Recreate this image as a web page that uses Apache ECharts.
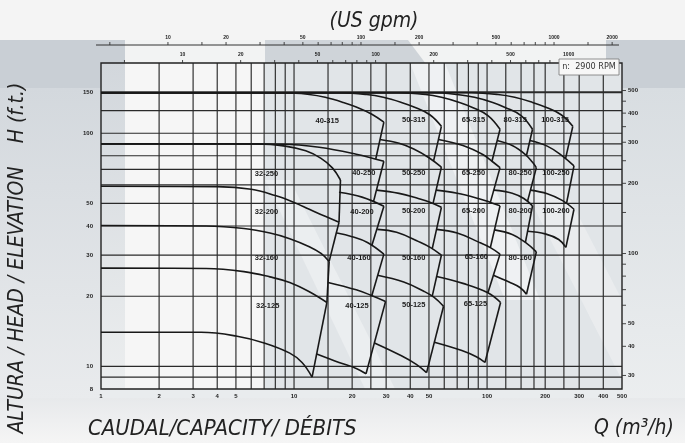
<!DOCTYPE html>
<html><head><meta charset="utf-8">
<script src="https://cdn.jsdelivr.net/npm/echarts@6/dist/echarts.min.js"></script>
<style>html,body{margin:0;padding:0;background:#e8ebed}#c{width:685px;height:443px}</style>
</head><body><div id="c"></div>
<script>
// ---------- axis ranges & ticks ----------
const Q_MIN = 1, Q_MAX = 500, H_MIN = 8, H_MAX = 200;
const qGrid = [2,3,4,5,6,7,8,9,10,15,20,25,30,40,50,60,70,80,90,100,125,150,175,200,250,300,400];
const hGrid = [9,10,20,30,40,50,60,70,80,90,100,125,150];
const qLabels = [1,2,3,4,5,10,20,30,40,50,100,200,300,400,500];
const hLabels = [8,10,20,30,40,50,100,150];
const ftTicks = [30,40,50,60,70,80,90,100,150,200,250,300,350,400,450,500];
const ftLabels = [30,40,50,100,200,300,400,500];
const FT_TO_M = 0.3048;
const gpmTicks = [5,10,15,20,30,40,50,60,70,80,90,100,150,200,300,400,500,600,700,800,900,1000,1500,2000];
const gpmLabels = [10,20,50,100,200,500,1000,2000];
const GPM_PER_M3H = 4.5;
const gpm2Ticks = [5,10,20,30,40,50,60,70,80,90,100,200,300,400,500,600,700,800,900,1000];
const gpm2Labels = [10,20,50,100,200,500,1000];
const GPM2_PER_M3H = 3.78;

// ---------- pump curves (Q m3/h, H m) ----------
const c32_250 = [[1,90],[6.5,90],[9,88],[11.5,84],[13.8,78],[15.8,71],[17.4,63]];
const c32_200 = [[1,59.2],[4,59],[6,57.5],[8,54],[10,50.5],[12,47.2],[14.5,44],[17.1,41.5]];
const c32_160 = [[1,40.2],[3.5,40],[5.5,39],[7.5,37.3],[9.5,35.3],[12,32.6],[13.8,30.5],[15.2,28.2]];
const c32_125 = [[1,26.4],[3.5,26.3],[5.5,25.5],[7.5,24.2],[9.5,22.9],[12,20.9],[14.8,18.8]];
const c32_min = [[1,14],[3.3,14],[5,13.5],[7,12.6],[9.5,11.4],[11,10.4],[12.4,9.0]];

const c40_315 = [[1,149],[9,149],[12,146.5],[14.5,142.5],[18,135.5],[21,129.5],[25.3,120.6],[29.2,111.5]];
const c40_250 = [[1,90],[8.7,89.7],[13.5,87.1],[21,81.3],[29.2,75.8]];
const c40_200 = [[17.1,55.8],[22.5,53.2],[29.2,48.6]];
const c40_160 = [[16.7,37.3],[20,36],[24,34],[29.2,30.3]];
const c40_125 = [[15.0,22.9],[21,21.3],[25,20.2],[29.8,19]];
const c40_min = [[13.1,11.3],[17.1,10.4],[21,9.8],[23.6,9.3]];

const c50_315 = [[1,149],[17.4,149],[23.8,146.5],[29,142.5],[36,135.5],[41.8,129.5],[50.5,120],[58,107]];
const c50_250 = [[27.9,94],[35,90.5],[41.7,85.5],[50,78.5],[58,71.5]];
const c50_200 = [[26.7,57],[35,55.2],[44,52.5],[51,50.5],[58,48.1]];
const c50_160 = [[27,38.7],[34,37.6],[44.5,34.2],[51,32.3],[58,30]];
const c50_125 = [[27.1,24.6],[37,23],[47,21],[53,19.8],[59.5,18.1]];
const c50_min = [[26.1,12.6],[36,11.1],[43,10.2],[48.6,9.4]];

const c65_315 = [[1,149],[35,149],[48,146.5],[58,142.5],[72,135.5],[84,129],[101,119],[116.7,104]];
const c65_250 = [[56,94],[75,88.5],[95,81],[106,75.8],[116.7,71.2]];
const c65_200 = [[54.5,57],[70,55.3],[90,52.5],[104,50.5],[116.7,48.8]];
const c65_160 = [[54.7,38.7],[70,37.3],[90,34.2],[104,32.3],[116.7,30.3]];
const c65_125 = [[54.8,24.3],[75,22.7],[101,20.7],[117.5,18.8]];
const c65_min = [[53.3,12.7],[74,11.7],[88,11],[97.5,10.4]];

const c80_315 = [[1,149],[52,149],[70,146.5],[86,142.5],[107,135.5],[124,129],[150,119],[172,104]];
const c80_250 = [[112.7,93],[135,88.5],[158,81],[172,75],[180,71.2]];
const c80_200 = [[108.4,57],[135,55.3],[155,52.5],[172,48.8]];
const c80_160 = [[109,38.5],[135,36.8],[158,34],[180,31]];
const c80_min = [[107.9,24.6],[130,23],[148,21.8],[160,20.4]];

const c100_315 = [[1,149],[83,149],[114,146.5],[139,142.5],[172,135.5],[200,129.5],[242,120],[278,107]];
const c100_250 = [[166.8,93],[205,88],[245,80],[282,72.4]];
const c100_200 = [[167.8,57],[205,55],[245,51.5],[282,47.2]];
const c100_min = [[162,38],[200,37],[235,35],[256,32.4]];

// right-hand limits of each pump field
const e32 = [[[17.4,63],[17.1,41.5]],[[17.1,41.5],[15.2,28.2]],[[15.2,28.2],[14.8,18.8]],[[14.8,18.8],[12.4,9.0]]];
const e40 = [[[29.2,111.5],[26.5,77.5]],[[29.2,75.8],[25.8,50.9]],[[29.2,48.6],[25.3,33.0]],[[29.2,30.3],[25.3,20.15]],[[29.8,19],[23.6,9.3]]];
const e50 = [[[58,107],[52.8,75.9]],[[58,71.5],[52.5,50]],[[58,48.1],[52,32]],[[58,30],[52,20]],[[59.5,18.1],[48.6,9.4]]];
const e65 = [[[116.7,104],[106,75.8]],[[116.7,71.2],[104,50.5]],[[116.7,48.8],[104,32.3]],[[116.7,30.3],[101,20.7]],[[117.5,18.8],[97.5,10.4]]];
const e80 = [[[172,104],[160,80.2]],[[180,71.2],[162,51]],[[172,48.8],[158,34]],[[180,31],[160,20.4]]];
const e100 = [[[278,107],[255,77.8]],[[282,72.4],[258,50]],[[282,47.2],[256,32.4]]];

// pump field names and where they sit (Q, H)
const pumpNames = ['40-315','50-315','65-315','80-315','100-315',
  '32-250','40-250','50-250','65-250','80-250','100-250',
  '32-200','40-200','50-200','65-200','80-200','100-200',
  '32-160','40-160','50-160','65-160','80-160',
  '32-125','40-125','50-125','65-125'];
const pumpQ = [14.85,41.7,85,140,225, 7.2,23,41.7,85,148.5,227.6, 7.2,22.5,41.7,85,148.5,227.6, 7.2,21.7,41.7,88,148.5, 7.3,21.2,41.7,87];
const pumpH = [112.6,113.7,113.7,113.7,114.5, 66.7,67.3,67.3,67.8,67.3,67.3, 45.8,45.8,46.3,46.3,46.3,46.3, 29.1,29.1,29.1,29.4,29.1, 18.1,18.1,18.4,18.6];

// ---------- build ----------
const curves = [c32_250,c32_200,c32_160,c32_125,c32_min,
  c40_315,c40_250,c40_200,c40_160,c40_125,c40_min,
  c50_315,c50_250,c50_200,c50_160,c50_125,c50_min,
  c65_315,c65_250,c65_200,c65_160,c65_125,c65_min,
  c80_315,c80_250,c80_200,c80_160,c80_min,
  c100_315,c100_250,c100_200,c100_min];
const edges = [].concat(e32,e40,e50,e65,e80,e100);

const TICK_FONT = "bold 6px 'Liberation Sans', Arial, sans-serif";
const INK = '#1c1c1c';
const NARROW = "'Liberation Sans Narrow','DejaVu Sans Condensed','Arial Narrow',sans-serif";

function ln(x1,y1,x2,y2,w,c){return {type:'line',shape:{x1,y1,x2,y2},style:{stroke:c||'#333',lineWidth:w||1}};}
function tx(x,y,t,align,va,font){return {type:'text',x,y,style:{text:String(t),fill:INK,font:font||TICK_FONT,align:align||'center',verticalAlign:va||'middle'}};}

function gridRender(params, api){
  const P=(q,h)=>api.coord([q,h]);
  const x0=P(Q_MIN,H_MIN)[0], x1=P(Q_MAX,H_MIN)[0];
  const yB=P(Q_MIN,H_MIN)[1], yT=P(Q_MIN,H_MAX)[1];
  const ch=[];
  qGrid.forEach(q=>{const x=P(q,H_MIN)[0]; ch.push(ln(x,yB,x,yT,1.15,'#2a2a2a'));});
  hGrid.forEach(h=>{const y=P(Q_MIN,h)[1]; ch.push(ln(x0,y,x1,y,h===150?2:1.15,'#2a2a2a'));});
  ch.push({type:'rect',shape:{x:x0,y:yT,width:x1-x0,height:yB-yT},style:{fill:null,stroke:'#222',lineWidth:1.4}});
  return {type:'group',children:ch};
}

function axisRender(params, api){
  const P=(q,h)=>api.coord([q,h]);
  const x0=P(Q_MIN,H_MIN)[0], x1=P(Q_MAX,H_MIN)[0];
  const yB=P(Q_MIN,H_MIN)[1], yT=P(Q_MIN,H_MAX)[1];
  const ch=[];
  qLabels.forEach(q=>{const x=P(q,H_MIN)[0]; ch.push(tx(x,yB+7,q));});
  hLabels.forEach(h=>{const y=P(Q_MIN,h)[1]; ch.push(tx(x0-8,y,h,'right'));});
  ftTicks.forEach(f=>{const y=P(Q_MAX,f*FT_TO_M)[1]; ch.push(ln(x1,y,x1+4,y,0.9,'#333'));});
  ftLabels.forEach(f=>{const y=P(Q_MAX,f*FT_TO_M)[1]; ch.push(tx(x1+6,y,f,'left'));});
  const yR1=yT-18;
  ch.push(ln(x0-5,yR1,x1-3,yR1,1,'#333'));
  gpmTicks.forEach(g=>{const x=P(g/GPM_PER_M3H,H_MAX)[0]; ch.push(ln(x,yR1,x,yR1-3,0.9,'#333'));});
  gpmLabels.forEach(g=>{const x=P(g/GPM_PER_M3H,H_MAX)[0]; ch.push(tx(x,yR1-7,g,'center','middle',"bold 5px 'Liberation Sans', Arial, sans-serif"));});
  gpm2Ticks.forEach(g=>{const x=P(g/GPM2_PER_M3H,H_MAX)[0]; ch.push(ln(x,yT,x,yT-3,0.9,'#333'));});
  gpm2Labels.forEach(g=>{const x=P(g/GPM2_PER_M3H,H_MAX)[0]; ch.push(tx(x,yT-8,g,'center','middle',"bold 5px 'Liberation Sans', Arial, sans-serif"));});
  return {type:'group',children:ch};
}

function labelRender(params, api){
  const p=api.coord([api.value(0),api.value(1)]);
  return tx(p[0],p[1],pumpNames[params.dataIndex],'center','middle',"bold 7.5px 'Liberation Sans', Arial, sans-serif");
}

const series = [];
series.push({type:'custom',renderItem:gridRender,data:[[Q_MIN,H_MIN]],z:1,silent:true,clip:false,animation:false});
curves.forEach(d=>series.push({type:'line',data:d,smooth:0.4,symbol:'none',showSymbol:false,silent:true,animation:false,lineStyle:{color:'#181818',width:1.6},z:3}));
edges.forEach(d=>series.push({type:'line',data:d,symbol:'none',showSymbol:false,silent:true,animation:false,lineStyle:{color:'#181818',width:1.6},z:3}));
series.push({type:'custom',renderItem:labelRender,data:pumpQ.map((q,i)=>[q,pumpH[i]]),z:5,silent:true,clip:false,animation:false});
series.push({type:'custom',renderItem:axisRender,data:[[Q_MIN,H_MIN]],z:5,silent:true,clip:false,animation:false});

const bg = [
  {type:'rect',shape:{x:0,y:0,width:685,height:443},style:{fill:'#e9ecee'}},
  {type:'rect',shape:{x:0,y:0,width:685,height:40},style:{fill:'#f4f4f4'}},
  {type:'rect',shape:{x:0,y:40,width:685,height:24},style:{fill:'#f2f3f3'}},
  {type:'rect',shape:{x:0,y:40,width:125,height:48},style:{fill:'#c9cfd5'}},
  {type:'polygon',shape:{points:[[265,40],[408,40],[438,80],[265,80]]},style:{fill:'#cfd4d9'}},
  {type:'rect',shape:{x:606,y:40,width:79,height:48},style:{fill:'#c9cfd5'}},
  {type:'rect',shape:{x:0,y:88,width:101,height:310},style:{fill:new echarts.graphic.LinearGradient(0,0,0,1,[{offset:0,color:'#d3d8dd'},{offset:1,color:'#e9ebed'}])}},
  {type:'rect',shape:{x:101,y:63,width:521,height:326},style:{fill:'#e1e5e8'}},
  {type:'rect',shape:{x:101,y:63,width:24,height:326},style:{fill:new echarts.graphic.LinearGradient(0,0,0,1,[{offset:0,color:'#d2d7dc'},{offset:1,color:'#eceeef'}])}},
  {type:'rect',shape:{x:125,y:63,width:140,height:326},style:{fill:'#f6f6f6'}},
  {type:'polygon',shape:{points:[[410,63],[445,63],[540,300],[505,300]]},style:{fill:'#f3f4f5',opacity:0.8}},
  {type:'polygon',shape:{points:[[265,180],[290,180],[395,389],[365,389]]},style:{fill:'#eef0f1',opacity:0.8}},
  {type:'polygon',shape:{points:[[520,180],[560,180],[622,300],[622,380]]},style:{fill:'#eef0f1',opacity:0.7}},
  {type:'rect',shape:{x:622,y:88,width:63,height:355},style:{fill:new echarts.graphic.LinearGradient(0,0,0,1,[{offset:0,color:'#d8dde1'},{offset:1,color:'#eef0f1'}])}},
  {type:'rect',shape:{x:0,y:398,width:685,height:45},style:{fill:new echarts.graphic.LinearGradient(0,0,0,1,[{offset:0,color:'#e7e9eb'},{offset:1,color:'#f5f5f5'}])}}
];
const titles = [
  {type:'text',x:374,y:22,style:{text:'(US gpm)',fill:'#222',font:"italic 21px "+NARROW,align:'center',verticalAlign:'middle'}},
  {type:'text',x:88,y:429,style:{text:'CAUDAL/CAPACITY/ DÉBITS',fill:'#222',font:"italic 22px "+NARROW,align:'left',verticalAlign:'middle'}},
  {type:'text',x:594,y:429,style:{text:'Q (m³/h)',fill:'#222',font:"italic 21px "+NARROW,align:'left',verticalAlign:'middle'}},
  {type:'text',x:18,y:300,rotation:Math.PI/2,style:{text:'ALTURA / HEAD / ELEVATION',fill:'#222',font:"italic 21px "+NARROW,align:'center',verticalAlign:'middle'}},
  {type:'text',x:18,y:113,rotation:Math.PI/2,style:{text:'H (f.t.)',fill:'#222',font:"italic 21px "+NARROW,align:'center',verticalAlign:'middle'}},
  {type:'rect',shape:{x:559,y:59,width:60,height:16},style:{fill:'#f7f7f7',stroke:'#777',lineWidth:0.8},z:10},
  {type:'text',x:589,y:67,z:11,style:{text:'n:  2900 RPM',fill:'#333',font:"9px "+NARROW,align:'center',verticalAlign:'middle'}}
];

const chart = echarts.init(document.getElementById('c'),null,{renderer:'canvas'});
chart.setOption({
  animation:false,
  backgroundColor:'#e9ecee',
  grid:{left:101,right:63,top:63,bottom:54,show:false},
  xAxis:{type:'log',logBase:10,min:Q_MIN,max:Q_MAX,show:false},
  yAxis:{type:'log',logBase:10,min:H_MIN,max:H_MAX,show:false},
  graphic:{elements:bg.map(e=>Object.assign({silent:true,z:-10},e)).concat(titles.map(e=>Object.assign({silent:true,z:e.z||20},e)))},
  series:series
});
</script></body></html>
